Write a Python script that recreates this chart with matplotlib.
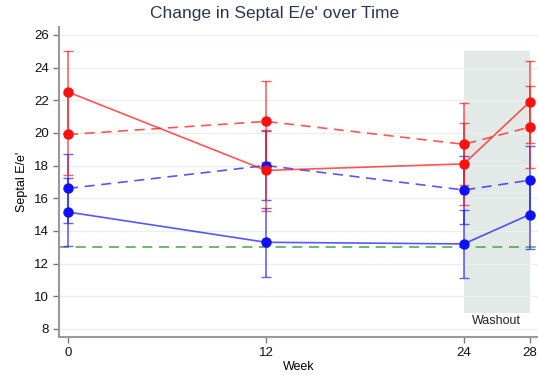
import matplotlib.pyplot as plt

plt.rcParams['font.family'] = ['Liberation Sans', 'DejaVu Sans']

weeks = [0, 12, 24, 28]

# red group
red_solid = [22.5, 17.7, 18.1, 21.9]
red_dashed = [19.9, 20.7, 19.3, 20.35]
red_err = [2.5, 2.5, 2.5, 2.5]

# blue group
blue_solid = [15.15, 13.3, 13.2, 15.0]
blue_dashed = [16.6, 18.0, 16.5, 17.1]
blue_err = [2.1, 2.1, 2.1, 2.1]

threshold = 13
washout = (24, 28)
washout_y = (9, 25)

fig = plt.figure(figsize=(5.38, 3.75), dpi=100)
ax = fig.add_axes([0.1097, 0.1013, 0.8903, 0.8275])

# washout shading
ax.fill_between(washout, washout_y[0], washout_y[1], color='#e2e9e6', zorder=0, lw=0)
ax.text(26, 8.45, 'Washout', ha='center', va='center', fontsize=9, color='#222222')

# reference line
ax.axhline(threshold, color='#55aa55', ls=(0, (6, 4)), lw=1.2, zorder=1)

series = [
    (blue_solid, blue_err, '#1010ff', '-'),
    (blue_dashed, blue_err, '#1010ff', (0, (6, 4))),
    (red_solid, red_err, '#ff1010', '-'),
    (red_dashed, red_err, '#ff1010', (0, (6, 4))),
]
for vals, err, col, ls in series:
    ax.errorbar(weeks, vals, yerr=err, fmt='none', ecolor=col, elinewidth=1.2,
                capsize=3.5, capthick=1.0, alpha=0.65, zorder=2)
    ax.plot(weeks, vals, color=col, ls=ls, lw=1.2, alpha=0.7, zorder=3)
    ax.plot(weeks, vals, 'o', color=col, ms=6.5, zorder=4, mec=col)

ax.set_xlim(-0.55, 28.5)
ax.set_ylim(7.5, 26.5)
ax.set_xticks(weeks)
ax.set_yticks(range(8, 27, 2))
ax.grid(axis='y', color='#eaf0f0', lw=1.0)
ax.set_axisbelow(True)

for s in ['top', 'right']:
    ax.spines[s].set_visible(False)
for s in ['left', 'bottom']:
    ax.spines[s].set_color('#999999')
    ax.spines[s].set_linewidth(1.5)
ax.tick_params(colors='#777777', labelcolor='#111111', labelsize=9.5, length=4, width=1)

ax.set_xlabel('Week', fontsize=9, labelpad=1)
ax.set_ylabel("Septal E/e'", fontsize=9, labelpad=4)

fig.suptitle("Change in Septal E/e' over Time", x=0.51, y=0.985, fontsize=12.5,
             color='#2a3550', va='top')

fig.savefig('out.png', dpi=100)
